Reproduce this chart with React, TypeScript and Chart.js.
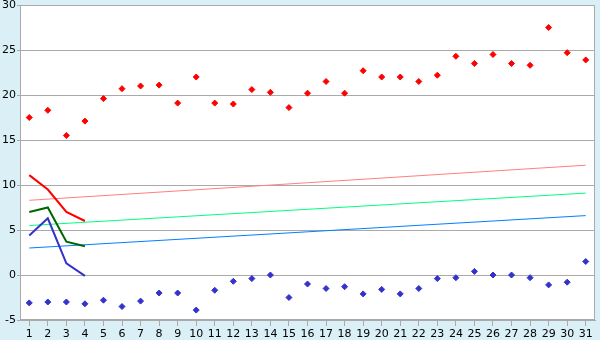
import React, { useEffect, useRef } from "react";
import { Chart, registerables } from "chart.js";

Chart.register(...registerables);

const categories = [
  "1", "2", "3", "4", "5", "6", "7", "8", "9", "10",
  "11", "12", "13", "14", "15", "16", "17", "18", "19", "20",
  "21", "22", "23", "24", "25", "26", "27", "28", "29", "30", "31",
];

const redPoints = [
  17.5, 18.3, 15.5, 17.1, 19.6, 20.7, 21.0, 21.1, 19.1, 22.0,
  19.1, 19.0, 20.6, 20.3, 18.6, 20.2, 21.5, 20.2, 22.7, 22.0,
  22.0, 21.5, 22.2, 24.3, 23.5, 24.5, 23.5, 23.3, 27.5, 24.7, 23.9,
];

const bluePoints = [
  -3.1, -3.0, -3.0, -3.2, -2.8, -3.5, -2.9, -2.0, -2.0, -3.9,
  -1.7, -0.7, -0.4, 0.0, -2.5, -1.0, -1.5, -1.3, -2.1, -1.6,
  -2.1, -1.5, -0.4, -0.3, 0.4, 0.0, 0.0, -0.3, -1.1, -0.8, 1.5,
];

const redLine = [11.1, 9.5, 7.0, 6.0];
const greenLine = [7.0, 7.5, 3.7, 3.2];
const blueLine = [4.4, 6.3, 1.3, -0.1];

const trendEnds = ["1", "31"];
const pinkTrend = [8.3, 12.2];
const mintTrend = [5.5, 9.1];
const azureTrend = [3.0, 6.6];

const yTicks = { min: -5, max: 30, step: 5 };

const FONT = { family: "'DejaVu Sans', Verdana, sans-serif", size: 11 };

export default function App() {
  const ref = useRef<HTMLCanvasElement | null>(null);

  useEffect(() => {
    if (!ref.current) return;
    const trend = (vals: number[]) => trendEnds.map((x, i) => ({ x, y: vals[i] }));

    const bgPlugin = {
      id: "bg",
      beforeDraw(chart: any) {
        const { ctx, chartArea: a } = chart;
        ctx.save();
        ctx.fillStyle = "#DAF0F6";
        ctx.fillRect(0, 0, chart.width, chart.height);
        ctx.fillStyle = "#FFFFFF";
        ctx.fillRect(a.left, a.top, a.right - a.left, a.bottom - a.top);
        ctx.restore();
      },
      afterDraw(chart: any) {
        const { ctx, chartArea: a } = chart;
        ctx.save();
        ctx.strokeStyle = "#AAAAAA";
        ctx.lineWidth = 1;
        ctx.strokeRect(a.left + 0.5, a.top + 0.5, a.right - a.left - 1, a.bottom - a.top - 1);
        ctx.restore();
      },
    };

    const chart = new Chart(ref.current, {
      type: "line",
      data: {
        labels: categories,
        datasets: [
          {
            data: redPoints,
            showLine: false,
            pointStyle: "rectRot",
            pointRadius: 3,
            borderColor: "#FF0000",
            backgroundColor: "#FF0000",
            borderWidth: 1,
          },
          {
            data: bluePoints,
            showLine: false,
            pointStyle: "rectRot",
            pointRadius: 3,
            borderColor: "#3333CC",
            backgroundColor: "#3333CC",
            borderWidth: 1,
          },
          {
            data: redLine,
            borderColor: "#FF0000",
            borderWidth: 2,
            pointRadius: 0,
          },
          {
            data: greenLine,
            borderColor: "#006600",
            borderWidth: 2,
            pointRadius: 0,
          },
          {
            data: blueLine,
            borderColor: "#3333CC",
            borderWidth: 2,
            pointRadius: 0,
          },
          {
            data: trend(pinkTrend) as any,
            borderColor: "#FF8080",
            borderWidth: 1,
            pointRadius: 0,
          },
          {
            data: trend(mintTrend) as any,
            borderColor: "#00FF80",
            borderWidth: 1,
            pointRadius: 0,
          },
          {
            data: trend(azureTrend) as any,
            borderColor: "#0080FF",
            borderWidth: 1,
            pointRadius: 0,
          },
        ],
      },
      options: {
        animation: false,
        responsive: false,
        layout: { padding: { top: 5, right: 5, left: 0, bottom: 0 } },
        plugins: { legend: { display: false }, tooltip: { enabled: false } },
        scales: {
          x: {
            type: "category",
            offset: true,
            grid: {
              drawOnChartArea: false,
              offset: false,
              tickLength: 6,
              color: "#AAAAAA",
            },
            border: { color: "#AAAAAA" },
            ticks: {
              color: "#000000",
              font: FONT,
              padding: 2,
              maxRotation: 0,
              autoSkip: false,
            },
            afterFit(scale: any) {
              scale.height = 20;
              scale.paddingLeft = 0;
              scale.paddingRight = 0;
            },
          },
          y: {
            min: yTicks.min,
            max: yTicks.max,
            grid: { color: "#AAAAAA", tickLength: 3 },
            border: { color: "#AAAAAA" },
            ticks: {
              stepSize: yTicks.step,
              color: "#000000",
              font: FONT,
              padding: 1,
            },
            afterFit(scale: any) {
              scale.width = 20;
              scale.paddingTop = 0;
              scale.paddingBottom = 0;
            },
          },
        },
      },
      plugins: [bgPlugin],
    });
    return () => chart.destroy();
  }, []);

  return (
    <div style={{ position: "absolute", left: 0, top: 0, width: 600, height: 340, background: "#DAF0F6" }}>
      <canvas ref={ref} width={600} height={340} style={{ display: "block" }} />
    </div>
  );
}
